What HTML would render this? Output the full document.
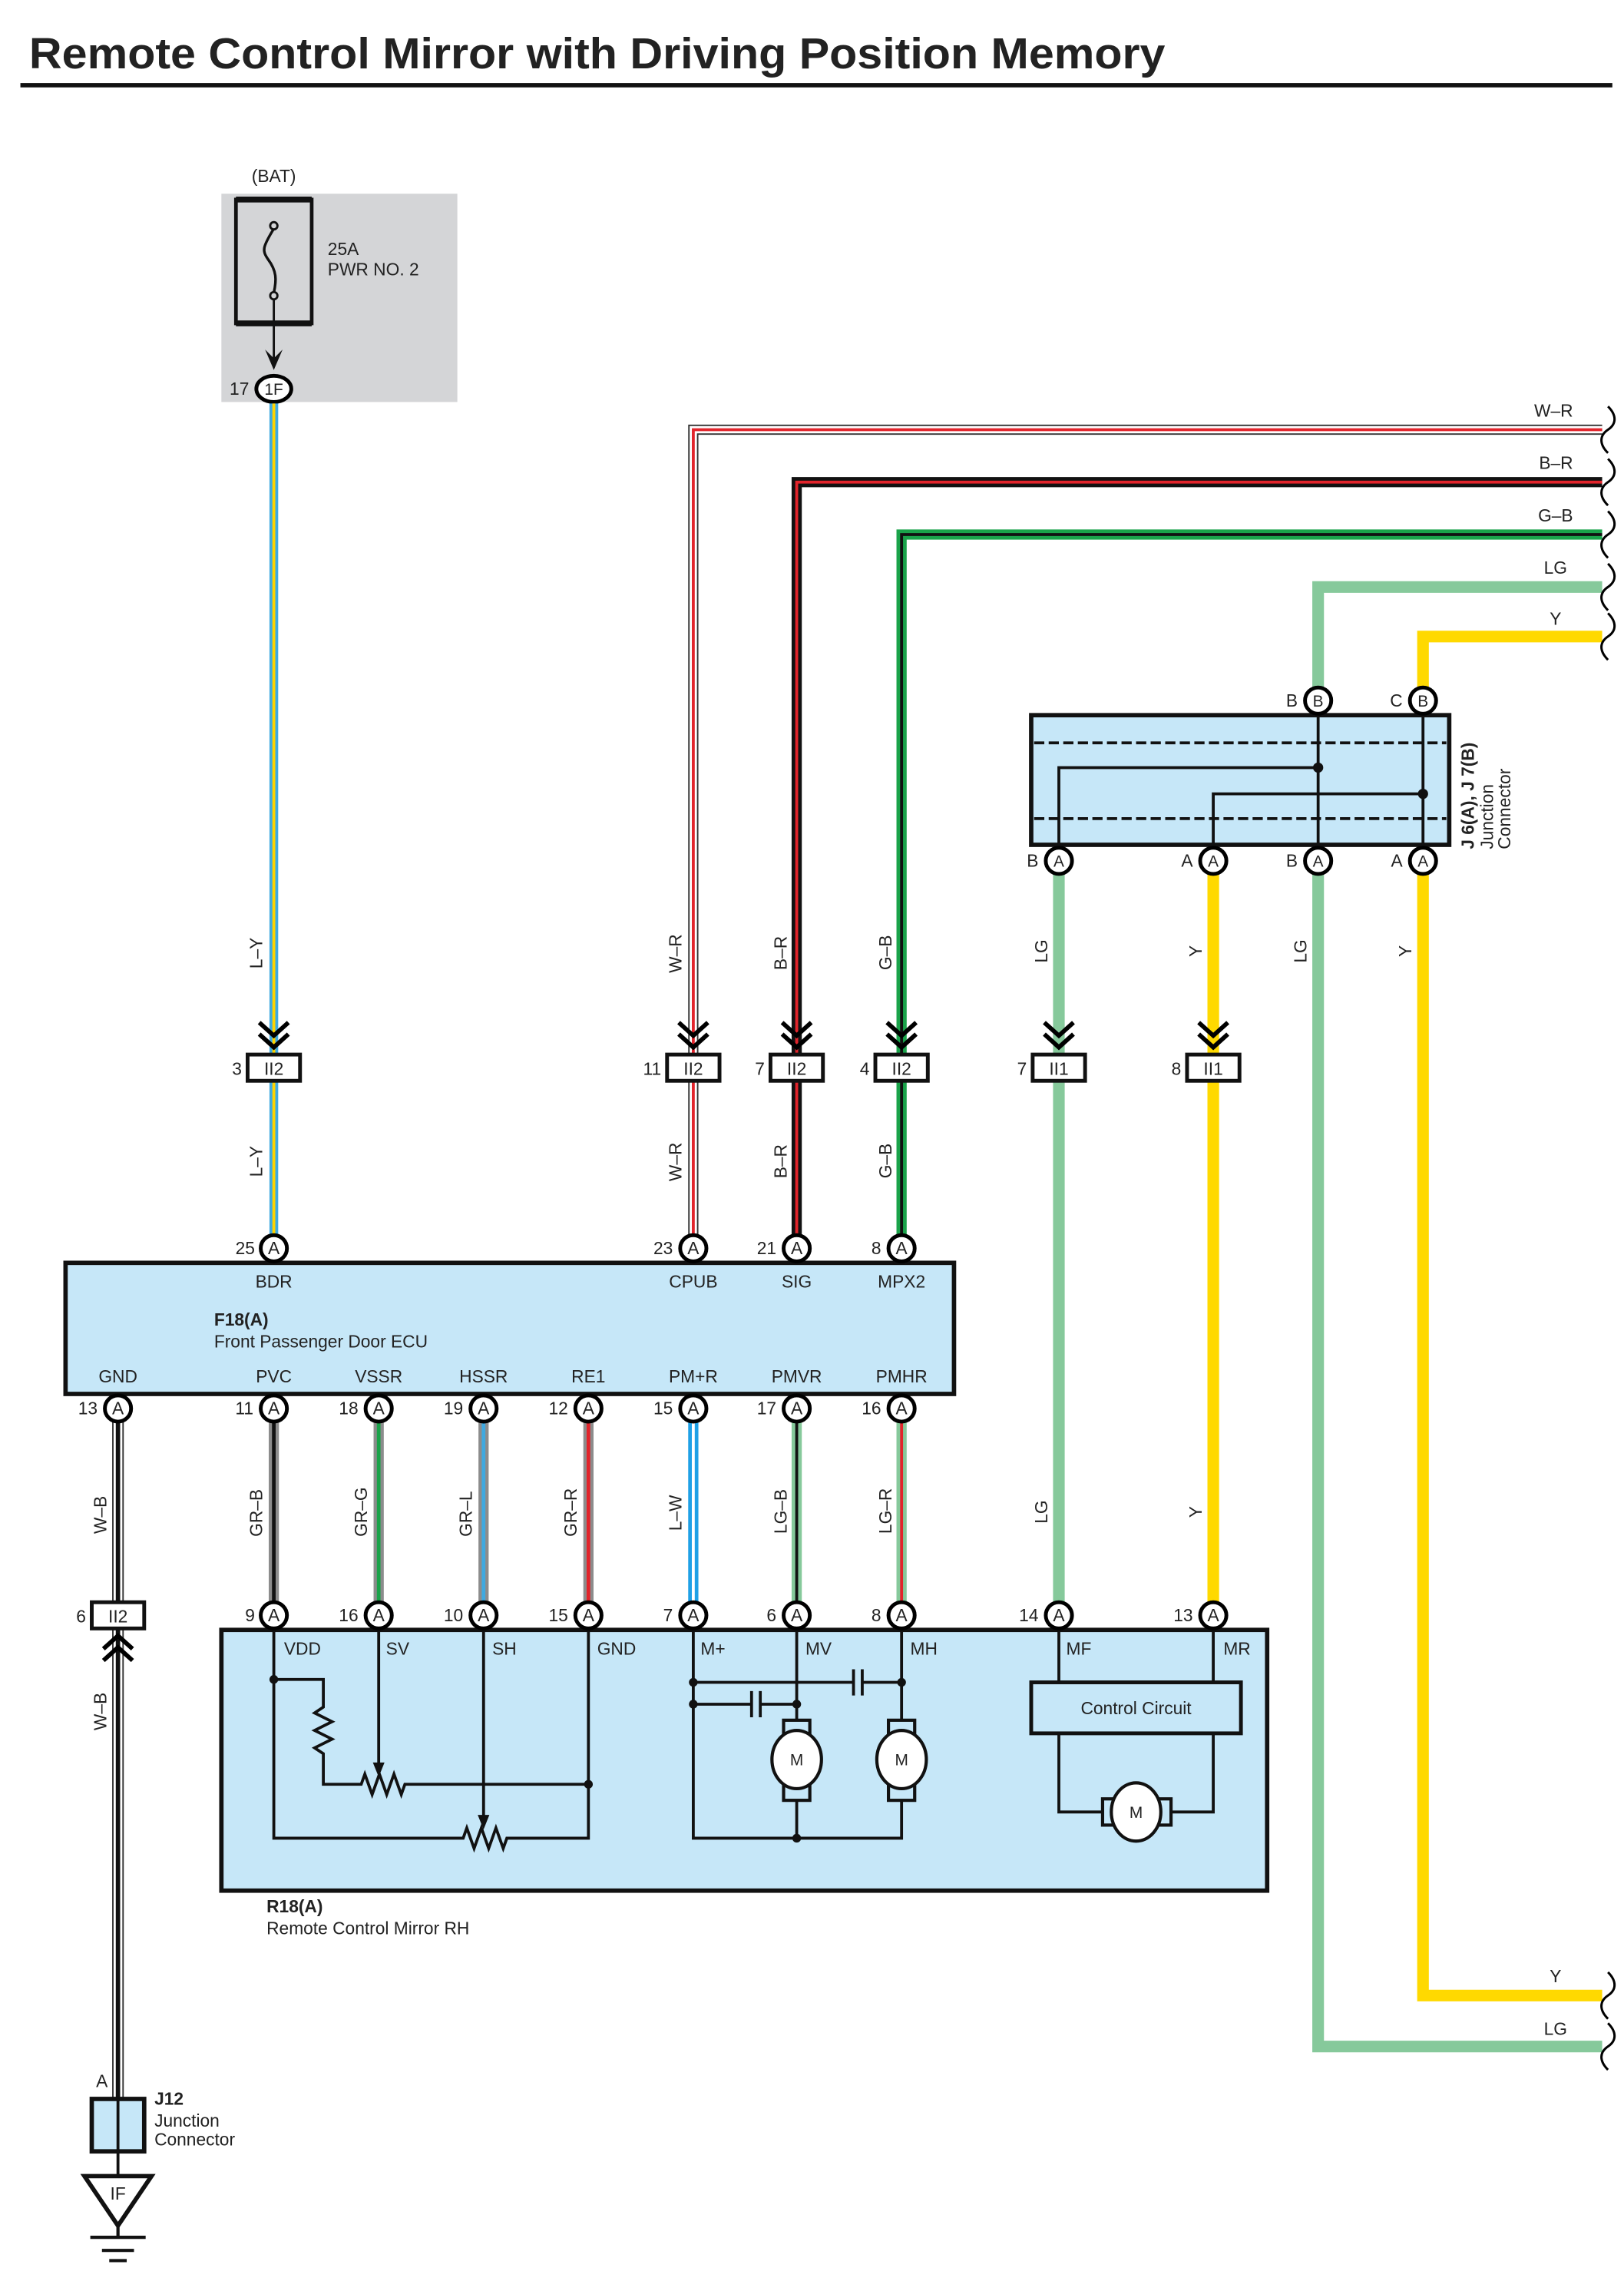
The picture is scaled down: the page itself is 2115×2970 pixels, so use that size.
<!DOCTYPE html>
<html><head><meta charset="utf-8"><style>
html,body{margin:0;padding:0;background:#fff}
svg{display:block}
text{font-family:"Liberation Sans",sans-serif;font-size:12px;fill:#222}
.n{text-anchor:end}
.c{text-anchor:middle}
.b{font-weight:bold}
</style></head><body>
<svg width="2115" height="2970" viewBox="0 0 1115 1566" preserveAspectRatio="none" xmlns="http://www.w3.org/2000/svg">
<defs>
<g id="pin"><circle r="9" fill="#fff" stroke="#000" stroke-width="2.6"/></g>
<g id="chev" fill="none" stroke="#000" stroke-width="3"><path d="M-10,-14 L0,-5 L10,-14"/><path d="M-10,-6 L0,3 L10,-6"/></g>
<g id="chevu" fill="none" stroke="#000" stroke-width="3"><path d="M-10,14 L0,5 L10,14"/><path d="M-10,6 L0,-3 L10,6"/></g>
<path id="brk" d="M0,-16 C6,-10 6,-4 0,0 C-6,4 -6,10 0,16" fill="none" stroke="#000" stroke-width="1.6"/>
</defs>

<text x="20" y="47" class="b" style="font-size:30px" textLength="780" lengthAdjust="spacingAndGlyphs">Remote Control Mirror with Driving Position Memory</text>
<rect x="14" y="57" width="1093" height="3" fill="#111"/>

<!-- fuse box -->
<rect x="152" y="133" width="162" height="143" fill="#d4d5d7"/>
<text x="188" y="125" class="c">(BAT)</text>
<rect x="162" y="137" width="52" height="85" fill="none" stroke="#111" stroke-width="2.5"/>
<path d="M162,137h52M162,222h52" stroke="#111" stroke-width="4"/>
<circle cx="188" cy="155" r="2.5" fill="none" stroke="#111" stroke-width="1.5"/>
<circle cx="188" cy="203" r="2.5" fill="none" stroke="#111" stroke-width="1.5"/>
<path d="M188,157 C180,170 180,172 184,178 C190,186 190,192 188,201" fill="none" stroke="#111" stroke-width="1.8"/>
<path d="M188,205 V250" stroke="#111" stroke-width="1.5"/>
<path d="M182,240 L188,254 L194,240 L188,246Z" fill="#111"/>
<text x="225" y="175">25A</text><text x="225" y="189">PWR NO. 2</text>
<ellipse cx="188" cy="267" rx="12" ry="9" fill="#fff" stroke="#000" stroke-width="2.6"/>
<text x="188" y="271" class="c" style="font-size:11px">1F</text>
<text x="171" y="271" class="n">17</text>

<!-- L-Y wire -->
<path d="M188,277V857" stroke="#3fa9e0" stroke-width="6"/>
<path d="M188,277V857" stroke="#ffd400" stroke-width="2"/>

<!-- top right wires -->
<g fill="none">
<path d="M1100,295H476V857" stroke="#333" stroke-width="7"/>
<path d="M1100,295H476V857" stroke="#fff" stroke-width="5"/>
<path d="M1100,295H476V857" stroke="#e2242b" stroke-width="2"/>
<path d="M1100,331H547V857" stroke="#111" stroke-width="7"/>
<path d="M1100,331H547V857" stroke="#e2242b" stroke-width="2"/>
<path d="M1100,367H619V857" stroke="#1aa34a" stroke-width="7"/>
<path d="M1100,367H619V857" stroke="#111" stroke-width="2"/>
<path d="M1100,403H905V1405H1100" stroke="#86c99b" stroke-width="8"/>
<path d="M1100,437H977V1370H1100" stroke="#ffd900" stroke-width="8"/>
<path d="M727,591V1109" stroke="#86c99b" stroke-width="8"/>
<path d="M833,591V1109" stroke="#ffd900" stroke-width="8"/>
</g>
<use href="#brk" x="1104" y="295"/><use href="#brk" x="1104" y="331"/><use href="#brk" x="1104" y="367"/><use href="#brk" x="1104" y="403"/><use href="#brk" x="1104" y="437"/><use href="#brk" x="1104" y="1370"/><use href="#brk" x="1104" y="1405"/>
<text x="1080" y="286" class="n">W–R</text><text x="1080" y="322" class="n">B–R</text><text x="1080" y="358" class="n">G–B</text><text x="1076" y="394" class="n">LG</text><text x="1072" y="429" class="n">Y</text><text x="1072" y="1361" class="n">Y</text><text x="1076" y="1397" class="n">LG</text>

<!-- junction connector J6/J7 -->
<rect x="708" y="491" width="287" height="89" fill="#c6e7f8" stroke="#111" stroke-width="3"/>
<path d="M710,510H993M710,562H993" stroke="#111" stroke-width="2" stroke-dasharray="7,3"/>
<path d="M905,491V580M977,491V580M727,580V527H905M833,580V545H977" fill="none" stroke="#111" stroke-width="2"/>
<circle cx="905" cy="527" r="3.5" fill="#111"/><circle cx="977" cy="545" r="3.5" fill="#111"/>
<use href="#pin" x="905" y="481"/><text x="905" y="485" class="c" style="font-size:11px">B</text><text x="891" y="485" class="n">B</text>
<use href="#pin" x="977" y="481"/><text x="977" y="485" class="c" style="font-size:11px">B</text><text x="963" y="485" class="n">C</text>
<use href="#pin" x="727" y="591"/><text x="727" y="595" class="c" style="font-size:11px">A</text><text x="713" y="595" class="n">B</text>
<use href="#pin" x="833" y="591"/><text x="833" y="595" class="c" style="font-size:11px">A</text><text x="819" y="595" class="n">A</text>
<use href="#pin" x="905" y="591"/><text x="905" y="595" class="c" style="font-size:11px">A</text><text x="891" y="595" class="n">B</text>
<use href="#pin" x="977" y="591"/><text x="977" y="595" class="c" style="font-size:11px">A</text><text x="963" y="595" class="n">A</text>
<g transform="translate(1012,583) rotate(-90)"><text x="0" y="0" class="b">J 6(A), J 7(B)</text><text x="0" y="13">Junction</text><text x="0" y="25">Connector</text></g>

<!-- inline connectors y=733 -->
<g>
<use href="#chev" x="188" y="716"/><use href="#chev" x="476" y="716"/><use href="#chev" x="547" y="716"/><use href="#chev" x="619" y="716"/><use href="#chev" x="727" y="716"/><use href="#chev" x="833" y="716"/>
<g fill="#fff" stroke="#111" stroke-width="2.6">
<rect x="170" y="724" width="36" height="18"/><rect x="458" y="724" width="36" height="18"/><rect x="529" y="724" width="36" height="18"/><rect x="601" y="724" width="36" height="18"/><rect x="709" y="724" width="36" height="18"/><rect x="815" y="724" width="36" height="18"/>
</g>
<text x="188" y="738" class="c">II2</text><text x="476" y="738" class="c">II2</text><text x="547" y="738" class="c">II2</text><text x="619" y="738" class="c">II2</text><text x="727" y="738" class="c">II1</text><text x="833" y="738" class="c">II1</text>
<text x="166" y="738" class="n">3</text><text x="454" y="738" class="n">11</text><text x="525" y="738" class="n">7</text><text x="597" y="738" class="n">4</text><text x="705" y="738" class="n">7</text><text x="811" y="738" class="n">8</text>
</g>
<!-- vertical labels -->
<g>
<text transform="translate(180,665) rotate(-90)">L–Y</text>
<text transform="translate(180,808) rotate(-90)">L–Y</text>
<text transform="translate(468,668) rotate(-90)">W–R</text>
<text transform="translate(468,811) rotate(-90)">W–R</text>
<text transform="translate(540,666) rotate(-90)">B–R</text>
<text transform="translate(540,809) rotate(-90)">B–R</text>
<text transform="translate(612,666) rotate(-90)">G–B</text>
<text transform="translate(612,809) rotate(-90)">G–B</text>
<text transform="translate(719,661) rotate(-90)">LG</text>
<text transform="translate(825,657) rotate(-90)">Y</text>
<text transform="translate(897,661) rotate(-90)">LG</text>
<text transform="translate(969,657) rotate(-90)">Y</text>
<text transform="translate(719,1046) rotate(-90)">LG</text>
<text transform="translate(825,1042) rotate(-90)">Y</text>
<text transform="translate(73,1053) rotate(-90)">W–B</text>
<text transform="translate(180,1055) rotate(-90)">GR–B</text>
<text transform="translate(252,1055) rotate(-90)">GR–G</text>
<text transform="translate(324,1055) rotate(-90)">GR–L</text>
<text transform="translate(396,1055) rotate(-90)">GR–R</text>
<text transform="translate(468,1051) rotate(-90)">L–W</text>
<text transform="translate(540,1053) rotate(-90)">LG–B</text>
<text transform="translate(612,1053) rotate(-90)">LG–R</text>
<text transform="translate(73,1188) rotate(-90)">W–B</text>
</g>

<!-- lower wires -->
<g fill="none">
<path d="M81,967V1441" stroke="#333" stroke-width="8"/><path d="M81,967V1441" stroke="#fff" stroke-width="6"/><path d="M81,967V1441" stroke="#111" stroke-width="3"/>
<path d="M188,967V1109" stroke="#8c8c8c" stroke-width="7"/><path d="M188,967V1109" stroke="#111" stroke-width="2.5"/>
<path d="M260,967V1109" stroke="#8c8c8c" stroke-width="7"/><path d="M260,967V1109" stroke="#1aa34a" stroke-width="2.5"/>
<path d="M332,967V1109" stroke="#8c8c8c" stroke-width="7"/><path d="M332,967V1109" stroke="#3fa9e0" stroke-width="2.5"/>
<path d="M404,967V1109" stroke="#8c8c8c" stroke-width="7"/><path d="M404,967V1109" stroke="#e2242b" stroke-width="2.5"/>
<path d="M476,967V1109" stroke="#1ea0e6" stroke-width="7"/><path d="M476,967V1109" stroke="#fff" stroke-width="2"/>
<path d="M547,967V1109" stroke="#86c99b" stroke-width="7"/><path d="M547,967V1109" stroke="#111" stroke-width="2"/>
<path d="M619,967V1109" stroke="#86c99b" stroke-width="7"/><path d="M619,967V1109" stroke="#e2242b" stroke-width="2"/>
</g>

<!-- ECU -->
<rect x="45" y="867" width="610" height="90" fill="#c6e7f8" stroke="#111" stroke-width="3"/>
<g class="c">
<text x="188" y="884" class="c">BDR</text><text x="476" y="884" class="c">CPUB</text><text x="547" y="884" class="c">SIG</text><text x="619" y="884" class="c">MPX2</text>
<text x="81" y="949" class="c">GND</text><text x="188" y="949" class="c">PVC</text><text x="260" y="949" class="c">VSSR</text><text x="332" y="949" class="c">HSSR</text><text x="404" y="949" class="c">RE1</text><text x="476" y="949" class="c">PM+R</text><text x="547" y="949" class="c">PMVR</text><text x="619" y="949" class="c">PMHR</text>
</g>
<text x="147" y="910" class="b">F18(A)</text><text x="147" y="925">Front Passenger Door ECU</text>
<g>
<use href="#pin" x="188" y="857"/><use href="#pin" x="476" y="857"/><use href="#pin" x="547" y="857"/><use href="#pin" x="619" y="857"/>
<use href="#pin" x="81" y="967"/><use href="#pin" x="188" y="967"/><use href="#pin" x="260" y="967"/><use href="#pin" x="332" y="967"/><use href="#pin" x="404" y="967"/><use href="#pin" x="476" y="967"/><use href="#pin" x="547" y="967"/><use href="#pin" x="619" y="967"/>
</g>
<g style="font-size:11px">
<text x="188" y="861" class="c">A</text><text x="476" y="861" class="c">A</text><text x="547" y="861" class="c">A</text><text x="619" y="861" class="c">A</text>
<text x="81" y="971" class="c">A</text><text x="188" y="971" class="c">A</text><text x="260" y="971" class="c">A</text><text x="332" y="971" class="c">A</text><text x="404" y="971" class="c">A</text><text x="476" y="971" class="c">A</text><text x="547" y="971" class="c">A</text><text x="619" y="971" class="c">A</text>
</g>
<text x="175" y="861" class="n">25</text><text x="462" y="861" class="n">23</text><text x="533" y="861" class="n">21</text><text x="605" y="861" class="n">8</text>
<text x="67" y="971" class="n">13</text><text x="174" y="971" class="n">11</text><text x="246" y="971" class="n">18</text><text x="318" y="971" class="n">19</text><text x="390" y="971" class="n">12</text><text x="462" y="971" class="n">15</text><text x="533" y="971" class="n">17</text><text x="605" y="971" class="n">16</text>

<!-- GND connector II2 -->
<rect x="63" y="1100" width="36" height="18" fill="#fff" stroke="#111" stroke-width="2.6"/>
<text x="81" y="1114" class="c">II2</text><text x="59" y="1114" class="n">6</text>
<use href="#chevu" x="81" y="1126"/>

<!-- R18 -->
<rect x="152" y="1119" width="718" height="179" fill="#c6e7f8" stroke="#111" stroke-width="3"/>
<g>
<text x="195" y="1136">VDD</text><text x="265" y="1136">SV</text><text x="338" y="1136">SH</text><text x="410" y="1136">GND</text><text x="481" y="1136">M+</text><text x="553" y="1136">MV</text><text x="625" y="1136">MH</text><text x="732" y="1136">MF</text><text x="840" y="1136">MR</text>
</g>
<g fill="none" stroke="#111" stroke-width="2">
<path d="M188,1119V1262H318 l2.5,-7 l5,14 l5,-14 l5,14 l5,-14 l5,14 l2.5,-7 H404V1119"/>
<path d="M188,1153H222V1172 l-6,4 l12,6 l-12,6 l12,6 l-12,6 l6,4 V1225H248 l2.5,-7 l5,14 l5,-14 l5,14 l5,-14 l5,14 l2.5,-7 H404"/>
<path d="M260,1119V1212"/><path d="M332,1119V1248"/>
<path d="M476,1119V1262H619V1119"/>
<path d="M547,1119V1262"/>
<path d="M476,1155H586M592,1155H619"/><path d="M586,1146V1164M592,1146V1164"/>
<path d="M476,1170H516M522,1170H547"/><path d="M516,1161V1179M522,1161V1179"/>
<path d="M727,1119V1155M833,1119V1155M727,1190V1244H760M800,1244H833V1190"/>
</g>
<path d="M256,1210L260,1220L264,1210Z" fill="#111"/><path d="M328,1246L332,1256L336,1246Z" fill="#111"/>
<g fill="#111"><circle cx="188" cy="1153" r="3"/><circle cx="404" cy="1225" r="3"/><circle cx="476" cy="1155" r="3"/><circle cx="476" cy="1170" r="3"/><circle cx="547" cy="1170" r="3"/><circle cx="619" cy="1155" r="3"/><circle cx="547" cy="1262" r="3"/></g>
<!-- motors -->
<g stroke="#111" stroke-width="2.2" fill="#c6e7f8">
<rect x="538" y="1181" width="18" height="10"/><rect x="538" y="1226" width="18" height="10"/>
<ellipse cx="547" cy="1208" rx="17" ry="20" fill="#fff"/>
<rect x="610" y="1181" width="18" height="10"/><rect x="610" y="1226" width="18" height="10"/>
<ellipse cx="619" cy="1208" rx="17" ry="20" fill="#fff"/>
<rect x="757" y="1235" width="10" height="18"/><rect x="794" y="1235" width="10" height="18"/>
<ellipse cx="780" cy="1244" rx="17" ry="20" fill="#fff"/>
<rect x="708" y="1155" width="144" height="35" fill="#c6e7f8" stroke-width="2.6"/>
</g>
<text x="547" y="1212" class="c" style="font-size:11px">M</text><text x="619" y="1212" class="c" style="font-size:11px">M</text><text x="780" y="1248" class="c" style="font-size:11px">M</text>
<text x="780" y="1177" class="c">Control Circuit</text>
<g>
<use href="#pin" x="188" y="1109"/><use href="#pin" x="260" y="1109"/><use href="#pin" x="332" y="1109"/><use href="#pin" x="404" y="1109"/><use href="#pin" x="476" y="1109"/><use href="#pin" x="547" y="1109"/><use href="#pin" x="619" y="1109"/><use href="#pin" x="727" y="1109"/><use href="#pin" x="833" y="1109"/>
</g>
<g style="font-size:11px">
<text x="188" y="1113" class="c">A</text><text x="260" y="1113" class="c">A</text><text x="332" y="1113" class="c">A</text><text x="404" y="1113" class="c">A</text><text x="476" y="1113" class="c">A</text><text x="547" y="1113" class="c">A</text><text x="619" y="1113" class="c">A</text><text x="727" y="1113" class="c">A</text><text x="833" y="1113" class="c">A</text>
</g>
<text x="175" y="1113" class="n">9</text><text x="246" y="1113" class="n">16</text><text x="318" y="1113" class="n">10</text><text x="390" y="1113" class="n">15</text><text x="462" y="1113" class="n">7</text><text x="533" y="1113" class="n">6</text><text x="605" y="1113" class="n">8</text><text x="713" y="1113" class="n">14</text><text x="819" y="1113" class="n">13</text>
<text x="183" y="1313" class="b">R18(A)</text><text x="183" y="1328">Remote Control Mirror RH</text>

<!-- J12 & ground -->
<text x="70" y="1433" class="c">A</text>
<rect x="63" y="1441" width="36" height="36" fill="#c6e7f8" stroke="#111" stroke-width="3"/>
<path d="M81,1441V1494" stroke="#111" stroke-width="2"/>
<text x="106" y="1445" class="b">J12</text><text x="106" y="1460">Junction</text><text x="106" y="1473">Connector</text>
<path d="M58,1494H104L81,1528Z" fill="#fff" stroke="#111" stroke-width="3"/>
<text x="81" y="1510" class="c">IF</text>
<path d="M81,1528V1536M62,1536H100M70,1545H92M75,1552H87" stroke="#111" stroke-width="2.2"/>
</svg>
</body></html>
